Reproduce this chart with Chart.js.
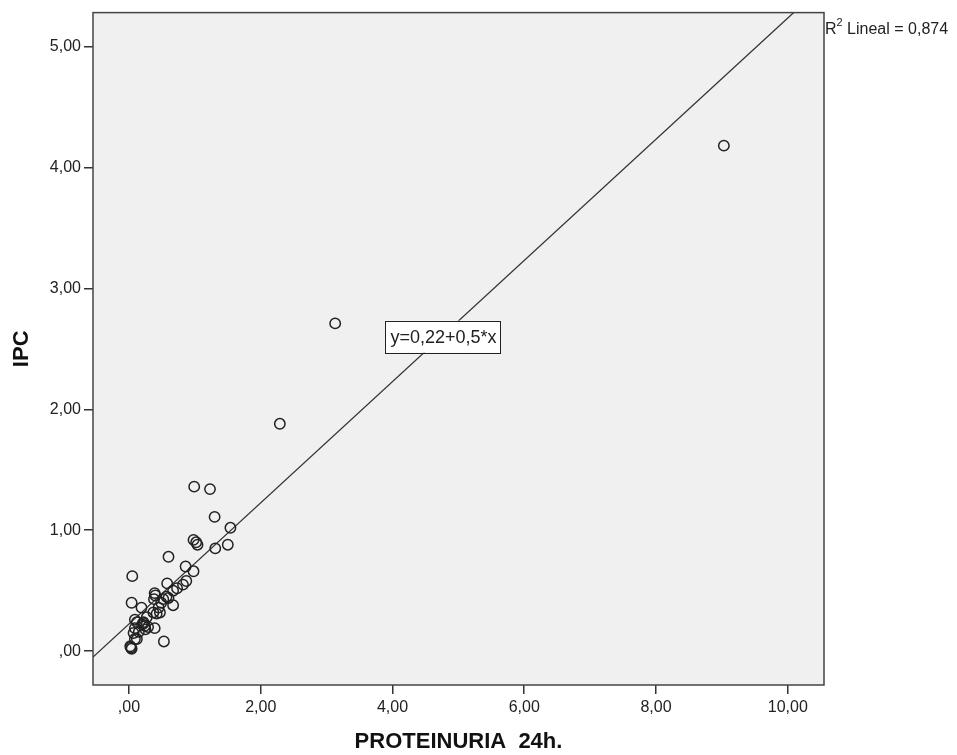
<!DOCTYPE html>
<html><head><meta charset="utf-8">
<script src="https://cdn.jsdelivr.net/npm/chart.js@4"></script>
<style>html,body{margin:0;padding:0;background:#fff}</style>
</head><body>
<canvas id="c" width="957" height="755"></canvas>
<script>
// Data
const proteinuria = [9.03,3.13,2.29,
  0.99,1.23,1.30,1.54,0.98,1.02,1.04,1.31,1.50,0.60,0.05,0.86,0.98,
  0.87,0.82,0.73,0.67,0.58,0.39,0.38,0.57,0.67,0.49,0.04,0.19,0.37,0.47,0.27,0.09,0.22,0.29,0.39,0.07,0.12,0.02,0.04,0.53,
  0.40,0.52,0.42,0.12,0.22,0.09,0.15,0.25,0.09,0.03,0.60,0.45,0.20,0.24];
const ipc = [4.18,2.71,1.88,
  1.36,1.34,1.11,1.02,0.92,0.90,0.88,0.85,0.88,0.78,0.62,0.70,0.66,
  0.58,0.55,0.52,0.50,0.56,0.48,0.43,0.45,0.38,0.40,0.40,0.36,0.32,0.32,0.28,0.26,0.23,0.20,0.19,0.15,0.10,0.04,0.02,0.08,
  0.46,0.43,0.31,0.24,0.24,0.19,0.16,0.18,0.10,0.03,0.44,0.36,0.22,0.21];
const xTicks = [0,2,4,6,8,10];
const yTicks = [0,1,2,3,4,5];
const fitIntercept = 0.225, fitSlope = 0.501;
const fitLabel = 'y=0,22+0,5*x';
const r2Value = '0,874';
const xTitle = 'PROTEINURIA  24h.';
const yTitle = 'IPC';

const xMin = -0.546, xMax = 10.55, yMin = -0.28, yMax = 5.28;
const pts = proteinuria.map((x,i)=>({x, y: ipc[i]}));
const fitLine = [xMin, xMax].map(x=>({x, y: fitIntercept + fitSlope*x}));
const fmt = v => v===0 ? ',00' : v.toFixed(2).replace('.', ',');
const FONT = 'Liberation Sans, Arial, sans-serif';

const deco = {
  id:'deco',
  beforeDraw(chart){
    const {ctx, chartArea:a} = chart;
    ctx.save(); ctx.fillStyle='#f0f0f0';
    ctx.fillRect(a.left, a.top, a.right-a.left, a.bottom-a.top);
    ctx.restore();
  },
  afterDraw(chart){
    const {ctx, chartArea:a, scales} = chart;
    ctx.save();
    ctx.strokeStyle='#444'; ctx.lineWidth=1.5;
    ctx.strokeRect(a.left, a.top, a.right-a.left, a.bottom-a.top);
    // fit label box placed in data space
    const cx = scales.x.getPixelForValue(4.76), cy = scales.y.getPixelForValue(2.60);
    ctx.font = '18px ' + FONT;
    const w = ctx.measureText(fitLabel).width + 9, h = 32;
    ctx.fillStyle='#fff'; ctx.fillRect(cx-w/2, cy-h/2, w, h);
    ctx.strokeStyle='#222'; ctx.lineWidth=1; ctx.strokeRect(Math.round(cx-w/2)+0.5, Math.round(cy-h/2)+0.5, Math.round(w), h);
    ctx.fillStyle='#222'; ctx.textAlign='center'; ctx.textBaseline='middle';
    ctx.fillText(fitLabel, cx+1, cy+1);
    // R2 label
    let x = a.right + 1, y = a.top + 21;
    ctx.textAlign='left'; ctx.textBaseline='alphabetic';
    ctx.font = '16px ' + FONT;
    ctx.fillText('R', x, y); x += ctx.measureText('R').width;
    ctx.font = '11px ' + FONT;
    ctx.fillText('2', x, y-8); x += ctx.measureText('2').width;
    ctx.font = '16px ' + FONT;
    ctx.fillText(' Lineal = ' + r2Value, x, y);
    ctx.restore();
  }
};

new Chart(document.getElementById('c'), {
  type:'scatter',
  data:{datasets:[
    {data: pts, pointRadius:5.2, pointHoverRadius:5.2, borderColor:'#222', backgroundColor:'rgba(0,0,0,0)', pointBorderWidth:1.5, order:1},
    {type:'line', data: fitLine, borderColor:'#333', borderWidth:1.3, pointRadius:0, fill:false, order:2}
  ]},
  options:{
    responsive:false, animation:false,
    layout:{padding:{left:0, top:11, right:133, bottom:0}},
    plugins:{legend:{display:false}, tooltip:{enabled:false}},
    scales:{
      x:{type:'linear', min:xMin, max:xMax,
        afterBuildTicks: s => { s.ticks = xTicks.map(v=>({value:v})); },
        afterFit: s => { s.height = 70; },
        border:{display:false},
        grid:{drawOnChartArea:false, drawTicks:true, tickLength:9, color:'#333', lineWidth:1.5},
        ticks:{callback: v=>fmt(v), font:{family:FONT, size:16}, color:'#222', padding:4, maxRotation:0},
        title:{display:true, text:xTitle, font:{family:FONT, size:22, weight:'bold'}, color:'#111', padding:{top:0,bottom:0}}
      },
      y:{type:'linear', min:yMin, max:yMax,
        afterBuildTicks: s => { s.ticks = yTicks.map(v=>({value:v})); },
        afterFit: s => { s.width = 93; },
        border:{display:false},
        grid:{drawOnChartArea:false, drawTicks:true, tickLength:9, color:'#333', lineWidth:1.5},
        ticks:{callback: v=>fmt(v), font:{family:FONT, size:16}, color:'#222', padding:3},
        title:{display:true, text:yTitle, font:{family:FONT, size:22, weight:'bold'}, color:'#111', padding:{top:9,bottom:0}}
      }
    }
  },
  plugins:[deco]
});
</script>
</body></html>
